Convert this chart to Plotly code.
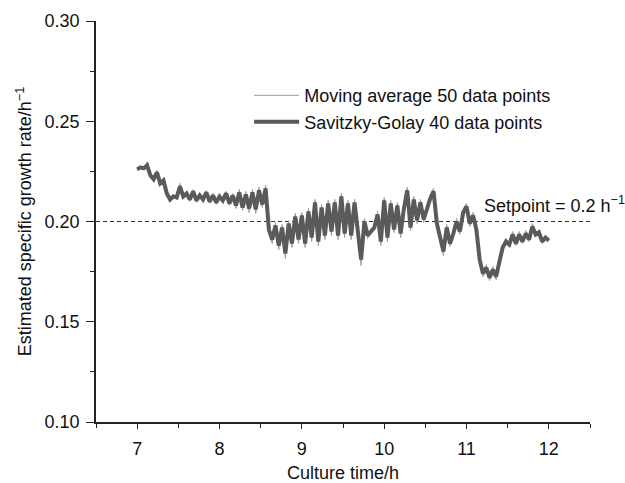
import numpy as np
import plotly.graph_objects as go

# Culture time (h): sampled every 0.04 h from 7.00 to 12.00
t_start = 7.0
t_step = 0.04

# Savitzky-Golay 40 data points
sg_values = [
    0.2260, 0.2270, 0.2265, 0.2280, 0.2230, 0.2210, 0.2245, 0.2190, 0.2205, 0.2140,
    0.2110, 0.2125, 0.2120, 0.2175, 0.2125, 0.2140, 0.2110, 0.2150, 0.2105, 0.2130,
    0.2110, 0.2145, 0.2100, 0.2130, 0.2095, 0.2125, 0.2105, 0.2140, 0.2090, 0.2130,
    0.2080, 0.2145, 0.2070, 0.2135, 0.2065, 0.2145, 0.2060, 0.2155, 0.2085, 0.2165,
    0.1960, 0.1910, 0.1980, 0.1880, 0.1970, 0.1840, 0.1990, 0.1890, 0.2025, 0.1910,
    0.2030, 0.1890, 0.2050, 0.1920, 0.2095, 0.1900, 0.2070, 0.1930, 0.2090, 0.1950,
    0.2095, 0.1930, 0.2125, 0.1940, 0.2090, 0.1930, 0.2095, 0.1970, 0.1810, 0.2000,
    0.1930, 0.1950, 0.1970, 0.2035, 0.1900, 0.2105, 0.1920, 0.2090, 0.1960, 0.2080,
    0.1940, 0.2065, 0.2155, 0.1970, 0.2110, 0.2005, 0.2095, 0.2010, 0.2065, 0.2115,
    0.2150, 0.1990, 0.1920, 0.1850, 0.1970, 0.1890, 0.1940, 0.2000, 0.1950, 0.2045,
    0.2075, 0.1990, 0.2030, 0.1960, 0.1810, 0.1740, 0.1770, 0.1720, 0.1760, 0.1725,
    0.1800, 0.1870, 0.1900, 0.1885, 0.1935, 0.1890, 0.1935, 0.1900, 0.1940, 0.1910,
    0.1975, 0.1935, 0.1945, 0.1900, 0.1920, 0.1905,
]

# Moving average 50 data points
ma_values = [
    0.2255, 0.2275, 0.2260, 0.2295, 0.2225, 0.2205, 0.2255, 0.2180, 0.2215, 0.2135,
    0.2100, 0.2135, 0.2110, 0.2190, 0.2115, 0.2150, 0.2100, 0.2160, 0.2095, 0.2140,
    0.2100, 0.2155, 0.2090, 0.2140, 0.2085, 0.2135, 0.2095, 0.2150, 0.2080, 0.2140,
    0.2065, 0.2160, 0.2055, 0.2150, 0.2045, 0.2160, 0.2040, 0.2170, 0.2070, 0.2180,
    0.1950, 0.1890, 0.1995, 0.1860, 0.1985, 0.1815, 0.2005, 0.1870, 0.2040, 0.1890,
    0.2045, 0.1870, 0.2065, 0.1900, 0.2110, 0.1880, 0.2085, 0.1910, 0.2105, 0.1930,
    0.2110, 0.1910, 0.2140, 0.1920, 0.2105, 0.1910, 0.2110, 0.1955, 0.1780, 0.2015,
    0.1915, 0.1960, 0.1955, 0.2050, 0.1880, 0.2120, 0.1900, 0.2105, 0.1945, 0.2095,
    0.1920, 0.2080, 0.2170, 0.1955, 0.2125, 0.1990, 0.2110, 0.1995, 0.2080, 0.2130,
    0.2165, 0.1975, 0.1905, 0.1830, 0.1985, 0.1875, 0.1955, 0.2015, 0.1935, 0.2060,
    0.2090, 0.1975, 0.2045, 0.1945, 0.1795, 0.1725, 0.1785, 0.1705, 0.1775, 0.1710,
    0.1815, 0.1860, 0.1915, 0.1875, 0.1950, 0.1880, 0.1950, 0.1890, 0.1955, 0.1900,
    0.1990, 0.1925, 0.1960, 0.1890, 0.1930, 0.1900,
]

times = np.round(t_start + t_step * np.arange(len(sg_values)), 2)

setpoint = 0.2
x_ticks = [7, 8, 9, 10, 11, 12]
y_ticks = [0.10, 0.15, 0.20, 0.25, 0.30]
y_tick_labels = ["0.10", "0.15", "0.20", "0.25", "0.30"]

FONT = "Liberation Sans, Arial, Helvetica, sans-serif"
FS = 18
AXIS_COLOR = "#222222"

fig = go.Figure()

fig.add_trace(go.Scatter(
    x=times, y=ma_values, mode="lines",
    name="Moving average 50 data points",
    line=dict(color="#9c9c9c", width=1),
    legendrank=1,
))
fig.add_trace(go.Scatter(
    x=times, y=sg_values, mode="lines",
    name="Savitzky-Golay 40 data points",
    line=dict(color="#5a5a5a", width=4),
    legendrank=2,
))

# Setpoint dashed line
fig.add_shape(type="line", xref="paper", yref="y", x0=0, x1=1,
              y0=setpoint, y1=setpoint,
              line=dict(color="#333333", width=1.2, dash="4px,3px"), layer="below")

fig.add_annotation(x=11.205, y=0.2087, xref="x", yref="y",
                   text="Setpoint = 0.2 h<sup>−1</sup>", showarrow=False,
                   xanchor="left", yanchor="middle", borderpad=0,
                   font=dict(family=FONT, size=FS, color="#111111"))

fig.update_layout(
    width=625, height=483,
    margin=dict(l=96, r=35, t=21, b=61, autoexpand=False),
    plot_bgcolor="white", paper_bgcolor="white",
    font=dict(family=FONT, size=FS, color="#111111"),
    showlegend=True,
    legend=dict(x=0.31, y=0.86, xanchor="left", yanchor="top",
                bgcolor="rgba(0,0,0,0)", font=dict(family=FONT, size=FS),
                tracegroupgap=0, itemwidth=45),
    xaxis=dict(
        range=[6.5, 12.5], tickvals=x_ticks, ticks="outside", ticklen=5,
        tickwidth=1.3, tickcolor=AXIS_COLOR, showline=True, linecolor=AXIS_COLOR,
        linewidth=1.5, showgrid=False, zeroline=False, ticklabelstandoff=5,
        automargin=False,
        minor=dict(dtick=0.5, tick0=6.5, ticks="outside", ticklen=4,
                   tickwidth=1.3, tickcolor=AXIS_COLOR, showgrid=False),
        title=dict(text="Culture time/h", font=dict(family=FONT, size=FS), standoff=13),
        tickfont=dict(family=FONT, size=FS),
    ),
    yaxis=dict(
        range=[0.1, 0.3], tickvals=y_ticks, ticktext=y_tick_labels,
        ticks="outside", ticklen=8, tickwidth=1.3, tickcolor=AXIS_COLOR,
        showline=True, linecolor=AXIS_COLOR, linewidth=1.5,
        showgrid=False, zeroline=False, ticklabelstandoff=3, automargin=False,
        minor=dict(dtick=0.025, tick0=0.1, ticks="outside", ticklen=4,
                   tickwidth=1.3, tickcolor=AXIS_COLOR, showgrid=False),
        title=dict(text="Estimated specific growth rate/h<sup>−1</sup>",
                   font=dict(family=FONT, size=FS), standoff=8),
        tickfont=dict(family=FONT, size=FS),
    ),
)

# Remove the browser's default 8 px body margin so the figure fills the window.
fig.write_html(
    "out.html",
    config={"displayModeBar": False},
    post_script="document.body.style.margin='0';document.body.style.overflow='hidden';",
)
